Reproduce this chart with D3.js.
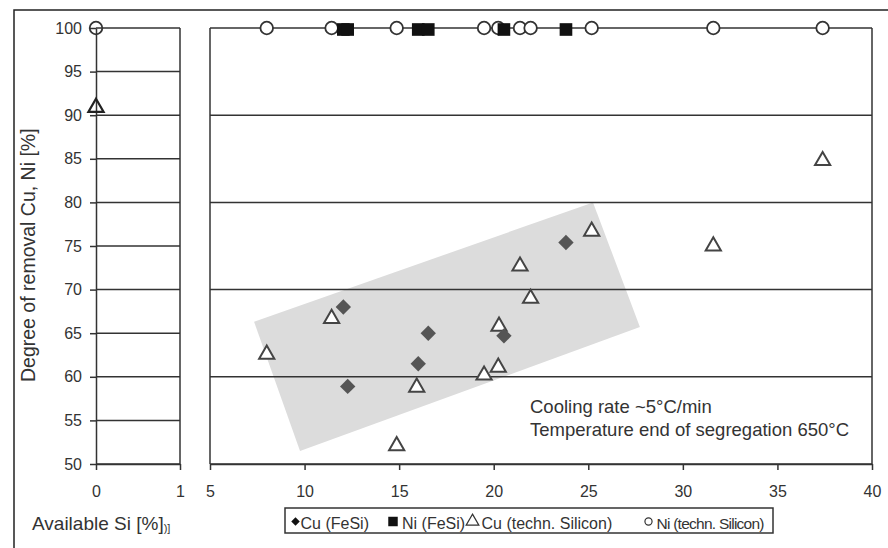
<!DOCTYPE html>
<html>
<head>
<meta charset="utf-8">
<script src="https://cdn.jsdelivr.net/npm/d3@7"></script>
<style>
body { margin: 0; background: #fff; }
text { font-family: "Liberation Sans", Arial, sans-serif; fill: #333; }
</style>
</head>
<body>
<div class="chart"></div>
<script>
// data
const cuFeSiX = [12.05, 12.28, 16.01, 16.54, 20.54, 23.82];
const cuFeSiY = [68.0, 58.9, 61.5, 65.0, 64.7, 75.4];
const niFeSiX = [12.05, 12.28, 16.01, 16.54, 20.54, 23.82];
const niFeSiY = [100, 100, 100, 100, 100, 100];
const cuTechX = [8.0, 11.43, 14.87, 15.93, 19.49, 20.24, 20.28, 21.39, 21.95, 25.18, 31.61, 37.39];
const cuTechY = [62.7, 66.8, 52.2, 58.9, 60.3, 61.2, 65.9, 72.8, 69.1, 76.8, 75.1, 84.9];
const niTechX = [8.0, 11.43, 14.87, 19.49, 20.24, 21.39, 21.95, 25.18, 31.61, 37.39];
const niTechY = [100, 100, 100, 100, 100, 100, 100, 100, 100, 100];
// "Available Si" panel (x = 0)
const availCuTech = [{x: 0, y: 91}];
const availNiTech = [{x: 0, y: 100}];
// shaded band corners (x, y)
const bandX = [7.33, 25.25, 27.73, 9.76];
const bandY = [66.3, 80.0, 65.7, 51.5];

const leftXTicks = [0, 1];
const rightXTicks = [5, 10, 15, 20, 25, 30, 35, 40];
const leftYTicks = [50, 55, 60, 65, 70, 75, 80, 85, 90, 95, 100];
const rightGrid = [50, 60, 70, 80, 90, 100];
const legendLabels = ["Cu (FeSi)", "Ni (FeSi)", "Cu (techn. Silicon)", "Ni (techn. Silicon)"];

const width = 888, height = 548;
const lineCol = "#333";

const svg = d3.select(".chart").append("svg")
    .attr("width", width)
    .attr("height", height);

// outer frame (top + left only visible)
svg.append("path")
    .attr("d", "M14,548 L14,10 L888,10")
    .attr("fill", "none").attr("stroke", "#222").attr("stroke-width", 1.5);

const xL = d3.scaleLinear().domain([0, 1]).range([96, 180]);
const xR = d3.scaleLinear().domain([5, 40]).range([210, 872]);
const y = d3.scaleLinear().domain([50, 100]).range([464, 28]);

// shaded band
svg.append("polygon")
    .attr("points", bandX.map((d, i) => xR(d) + "," + y(bandY[i])).join(" "))
    .attr("fill", "#dcdcdc");

// left panel grid
svg.append("g").selectAll("line")
    .data(leftYTicks)
    .join("line")
    .attr("x1", xL(0)).attr("x2", xL(1))
    .attr("y1", d => y(d)).attr("y2", d => y(d))
    .attr("stroke", lineCol).attr("stroke-width", 1.5);

svg.append("line")
    .attr("x1", xL(1)).attr("x2", xL(1))
    .attr("y1", y(100)).attr("y2", y(50))
    .attr("stroke", lineCol).attr("stroke-width", 1.5);

// right panel grid + frame
svg.append("g").selectAll("line")
    .data(rightGrid)
    .join("line")
    .attr("x1", xR(5)).attr("x2", xR(40))
    .attr("y1", d => y(d)).attr("y2", d => y(d))
    .attr("stroke", lineCol).attr("stroke-width", 1.5);

svg.append("g").selectAll("line")
    .data([5, 40])
    .join("line")
    .attr("x1", d => xR(d)).attr("x2", d => xR(d))
    .attr("y1", y(100)).attr("y2", y(50))
    .attr("stroke", lineCol).attr("stroke-width", 1.5);

// axes
function styleAxis(g) {
    g.select(".domain").attr("stroke", lineCol).attr("stroke-width", 1.5);
    g.selectAll(".tick line").attr("stroke", lineCol).attr("stroke-width", 1.5);
    g.selectAll(".tick text")
        .attr("font-family", '"Liberation Sans", Arial, sans-serif')
        .attr("font-size", 16)
        .attr("fill", "#333");
}

svg.append("g")
    .attr("transform", "translate(" + xL(0) + ",0)")
    .call(d3.axisLeft(y).tickValues(leftYTicks).tickSize(6).tickSizeOuter(0).tickPadding(8))
    .call(styleAxis);

svg.append("g")
    .attr("transform", "translate(0," + y(50) + ")")
    .call(d3.axisBottom(xL).tickValues(leftXTicks).tickFormat(d3.format("d"))
        .tickSize(6).tickSizeOuter(0).tickPadding(16))
    .call(styleAxis);

svg.append("g")
    .attr("transform", "translate(0," + y(50) + ")")
    .call(d3.axisBottom(xR).tickValues(rightXTicks).tickSize(6).tickSizeOuter(0).tickPadding(16))
    .call(styleAxis);

// axis titles
svg.append("text")
    .attr("transform", "translate(35,382) rotate(-90)")
    .attr("font-size", 19.5)
    .text("Degree of removal Cu, Ni [%]");

const avail = svg.append("text")
    .attr("x", 32).attr("y", 530)
    .attr("font-size", 19)
    .text("Available Si [%]");
avail.append("tspan").attr("font-size", 11).attr("dy", 2).text(")]");

// annotation
svg.append("text").attr("x", 530).attr("y", 413).attr("font-size", 18.5)
    .text("Cooling rate ~5°C/min");
svg.append("text").attr("x", 530).attr("y", 436).attr("font-size", 18.5)
    .text("Temperature end of segregation 650°C");

// markers
const triangle = d3.symbol().type(d3.symbolTriangle).size(100);
const diamond = d3.symbol().type(d3.symbolSquare).size(118);
const square = d3.symbol().type(d3.symbolSquare).size(160);

const niTech = niTechX.map((d, i) => ({x: d, y: niTechY[i]}));
const cuTech = cuTechX.map((d, i) => ({x: d, y: cuTechY[i]}));
const cuFeSi = cuFeSiX.map((d, i) => ({x: d, y: cuFeSiY[i]}));
const niFeSi = niFeSiX.map((d, i) => ({x: d, y: niFeSiY[i]}));

svg.append("g").selectAll("circle")
    .data(niTech)
    .join("circle")
    .attr("cx", d => xR(d.x)).attr("cy", d => y(d.y))
    .attr("r", 6.3)
    .attr("fill", "#fff").attr("stroke", "#333").attr("stroke-width", 1.8);

svg.append("g").selectAll("circle")
    .data(availNiTech)
    .join("circle")
    .attr("cx", d => xL(d.x)).attr("cy", d => y(d.y))
    .attr("r", 6.3)
    .attr("fill", "none").attr("stroke", "#333").attr("stroke-width", 1.8);

svg.append("g").selectAll("path")
    .data(cuTech)
    .join("path")
    .attr("d", triangle)
    .attr("transform", d => "translate(" + xR(d.x) + "," + (y(d.y) + 1) + ")")
    .attr("fill", "#fff").attr("stroke", "#444").attr("stroke-width", 2);

svg.append("g").selectAll("path")
    .data(availCuTech)
    .join("path")
    .attr("d", triangle)
    .attr("transform", d => "translate(" + xL(d.x) + "," + (y(d.y) + 1) + ")")
    .attr("fill", "none").attr("stroke", "#222").attr("stroke-width", 2.2);

svg.append("g").selectAll("path")
    .data(cuFeSi)
    .join("path")
    .attr("d", diamond)
    .attr("transform", d => "translate(" + xR(d.x) + "," + y(d.y) + ") rotate(45)")
    .attr("fill", "#555");

svg.append("g").selectAll("path")
    .data(niFeSi)
    .join("path")
    .attr("d", square)
    .attr("transform", d => "translate(" + xR(d.x) + "," + (y(d.y) + 1.5) + ")")
    .attr("fill", "#111");

// legend
const legend = svg.append("g");
legend.append("rect")
    .attr("x", 285).attr("y", 508).attr("width", 488).attr("height", 25)
    .attr("fill", "#fff").attr("stroke", "#333").attr("stroke-width", 1.5);

const legSym = [
    {x: 295.5, text: 300.5, len: null, sym: d3.symbol().type(d3.symbolSquare).size(36)(), rot: 45, fill: "#111", stroke: "none"},
    {x: 393, text: 402, len: null, sym: d3.symbol().type(d3.symbolSquare).size(90)(), rot: 0, fill: "#111", stroke: "none"},
    {x: 472.5, text: 481.5, len: null, sym: d3.symbol().type(d3.symbolTriangle).size(70)(), rot: 0, fill: "none", stroke: "#333"},
    {x: 648.5, text: 656.5, len: 108, sym: d3.symbol().type(d3.symbolCircle).size(40)(), rot: 0, fill: "none", stroke: "#333"}
];

legend.selectAll("path")
    .data(legSym)
    .join("path")
    .attr("d", d => d.sym)
    .attr("transform", d => "translate(" + d.x + ",521.5) rotate(" + d.rot + ")")
    .attr("fill", d => d.fill).attr("stroke", d => d.stroke).attr("stroke-width", 1.2);

legend.selectAll("text")
    .data(legendLabels)
    .join("text")
    .attr("x", (d, i) => legSym[i].text)
    .attr("y", 528.5)
    .attr("font-size", 16)
    .text(d => d)
    .each(function(d, i) {
        if (legSym[i].len) {
            d3.select(this).attr("font-size", 15.5)
                .attr("textLength", legSym[i].len)
                .attr("lengthAdjust", "spacing");
        }
    });
</script>
</body>
</html>
